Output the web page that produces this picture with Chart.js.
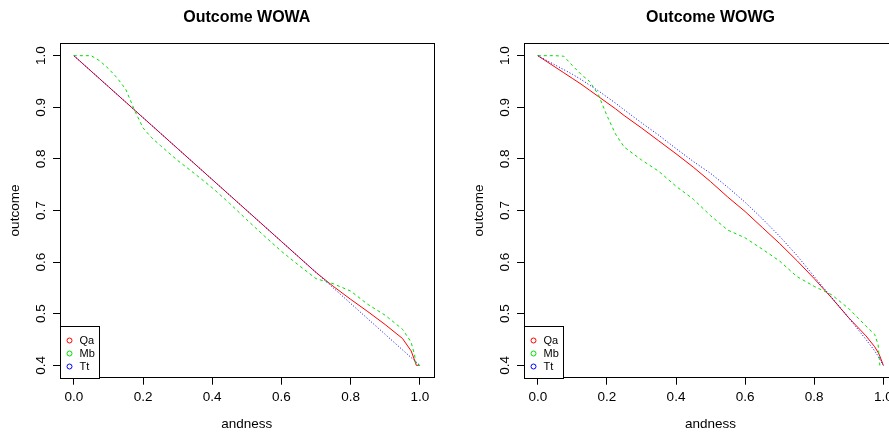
<!DOCTYPE html>
<html>
<head>
<meta charset="utf-8">
<script src="https://cdn.jsdelivr.net/npm/chart.js@4"></script>
<style>
  html, body { margin: 0; padding: 0; background: #fff; overflow: hidden; width: 889px; height: 434px; }
  canvas { position: absolute; top: 0; }
  #wowa { left: 0; }
  #wowg { left: 450px; }
</style>
</head>
<body>
<canvas id="wowa" width="450" height="434"></canvas>
<canvas id="wowg" width="460" height="434"></canvas>
<script>
// andness values shared by every curve
const andness = [0, 0.05, 0.075, 0.1, 0.125, 0.15, 0.175, 0.2, 0.225, 0.25, 0.3, 0.35, 0.4, 0.45, 0.5, 0.55, 0.6, 0.65, 0.7, 0.75, 0.8, 0.85, 0.9, 0.95, 0.975, 0.985, 0.99, 1.0];

// Outcome WOWA
const wowaQa = [1.0, 0.97, 0.955, 0.94, 0.925, 0.91, 0.895, 0.88, 0.865, 0.85, 0.82, 0.79, 0.76, 0.73, 0.70, 0.67, 0.64, 0.61, 0.58, 0.553, 0.528, 0.504, 0.479, 0.452, 0.428, 0.41, 0.40, 0.40];
const wowaMb = [1.0, 1.0, 0.99, 0.975, 0.957, 0.935, 0.895, 0.86, 0.841, 0.826, 0.797, 0.771, 0.744, 0.714, 0.682, 0.651, 0.621, 0.594, 0.568, 0.558, 0.544, 0.518, 0.497, 0.47, 0.445, 0.42, 0.40, 0.40];
const wowaTt = [1.0, 0.97, 0.955, 0.94, 0.925, 0.91, 0.895, 0.88, 0.865, 0.85, 0.82, 0.79, 0.76, 0.73, 0.70, 0.67, 0.64, 0.61, 0.58, 0.55, 0.52, 0.49, 0.46, 0.43, 0.415, 0.409, 0.406, 0.40];

// Outcome WOWG
const wowgQa = [1.0, 0.978, 0.967, 0.956, 0.945, 0.933, 0.921, 0.909, 0.897, 0.884, 0.86, 0.835, 0.81, 0.784, 0.756, 0.726, 0.698, 0.667, 0.636, 0.603, 0.568, 0.531, 0.492, 0.457, 0.436, 0.425, 0.418, 0.40];
const wowgMb = [1.0, 1.0, 0.999, 0.981, 0.964, 0.95, 0.925, 0.884, 0.848, 0.823, 0.798, 0.776, 0.747, 0.722, 0.69, 0.662, 0.647, 0.625, 0.602, 0.572, 0.553, 0.537, 0.51, 0.476, 0.46, 0.44, 0.40, 0.40];
const wowgTt = [1.0, 0.982, 0.973, 0.964, 0.954, 0.943, 0.932, 0.92, 0.908, 0.895, 0.87, 0.846, 0.82, 0.795, 0.772, 0.745, 0.716, 0.684, 0.65, 0.613, 0.572, 0.532, 0.492, 0.45, 0.428, 0.418, 0.412, 0.40];

const seriesNames = ["Qa", "Mb", "Tt"];
const xTicks = [0, 0.2, 0.4, 0.6, 0.8, 1.0];
const yTicks = [0.4, 0.5, 0.6, 0.7, 0.8, 0.9, 1.0];

const fontFamily = "'Liberation Sans', Arial, Helvetica, sans-serif";
Chart.defaults.font.family = fontFamily;
Chart.defaults.color = "#000";

const colors = ["#ff0000", "#00e000", "#0000ff"];
const dashes = [[], [3, 3], [1, 2]];

function points(ys) {
  return andness.map((x, i) => ({ x: x, y: ys[i] }));
}

// R-style box round the plot region and the small legend in the lower left corner
const boxAndLegend = {
  id: "boxAndLegend",
  afterDraw(chart) {
    const ctx = chart.ctx;
    const a = chart.chartArea;
    ctx.save();
    ctx.strokeStyle = "#000";
    ctx.lineWidth = 1;
    ctx.strokeRect(Math.round(a.left) + 0.5, Math.round(a.top) + 0.5,
      Math.round(a.right - a.left), Math.round(a.bottom - a.top));

    const lw = 39, lh = 52;
    const lx = Math.round(a.left) + 0.5;
    const ly = Math.round(a.bottom) + 0.5 - lh;
    ctx.fillStyle = "#fff";
    ctx.fillRect(lx, ly, lw, lh);
    ctx.strokeRect(lx, ly, lw, lh);
    ctx.font = "11px " + fontFamily;
    ctx.textBaseline = "middle";
    ctx.textAlign = "left";
    chart.data.datasets.forEach((ds, i) => {
      const y = ly + 14 + i * 13;
      ctx.beginPath();
      ctx.arc(lx + 9, y, 2.5, 0, Math.PI * 2);
      ctx.strokeStyle = ds.borderColor;
      ctx.stroke();
      ctx.fillStyle = "#000";
      ctx.fillText(ds.label, lx + 19, y);
    });
    ctx.restore();
  }
};

function makeChart(id, title, series, padLeft, padRight) {
  return new Chart(document.getElementById(id), {
    type: "line",
    data: {
      datasets: series.map((ys, i) => ({
        label: seriesNames[i],
        data: points(ys),
        borderColor: colors[i],
        backgroundColor: colors[i],
        borderDash: dashes[i],
        borderWidth: 1,
        pointRadius: 0,
        tension: 0,
        fill: false,
        order: 3 - i,
      })),
    },
    options: {
      responsive: false,
      animation: false,
      events: [],
      layout: { padding: { left: padLeft, right: padRight, top: 0, bottom: 0 } },
      plugins: {
        legend: { display: false },
        tooltip: { enabled: false },
        title: {
          display: true,
          text: title,
          fullSize: false,
          font: { size: 16, weight: "bold" },
          padding: { top: 8, bottom: 16.1 },
        },
      },
      scales: {
        x: {
          type: "linear",
          min: -0.04,
          max: 1.04,
          afterBuildTicks: (s) => { s.ticks = xTicks.map((v) => ({ value: v })); },
          afterFit: (s) => { s.height = 56.3; },
          ticks: { callback: (v) => v.toFixed(1), font: { size: 13.5 }, padding: 4.5, maxRotation: 0, autoSkip: false },
          grid: { drawOnChartArea: false, tickLength: 7, color: "#000" },
          border: { display: false },
          title: { display: true, text: "andness", font: { size: 13.5 }, padding: { top: 0, bottom: 1.9 } },
        },
        y: {
          type: "linear",
          min: 0.376,
          max: 1.024,
          afterBuildTicks: (s) => { s.ticks = yTicks.map((v) => ({ value: v })); },
          afterFit: (s) => { s.width = 60; },
          ticks: { callback: (v) => v.toFixed(1), font: { size: 13.5 }, padding: 2, minRotation: 90, maxRotation: 90, crossAlign: "center", autoSkip: false },
          grid: { drawOnChartArea: false, tickLength: 7, color: "#000" },
          border: { display: false },
          title: { display: true, text: "outcome", font: { size: 13.5 }, padding: { top: 6.9, bottom: 0 } },
        },
      },
    },
    plugins: [boxAndLegend],
  });
}

makeChart("wowa", "Outcome WOWA", [wowaQa, wowaMb, wowaTt], 0, 16.4);
makeChart("wowg", "Outcome WOWG", [wowgQa, wowgMb, wowgTt], 14, 12.9);
</script>
</body>
</html>
